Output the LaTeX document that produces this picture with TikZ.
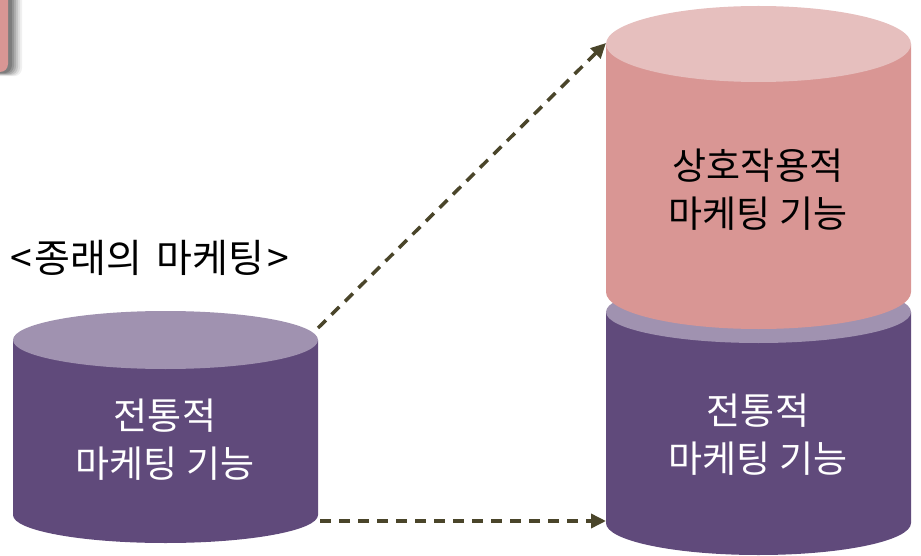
\documentclass[tikz,border=0pt]{standalone}
\usepackage{fontspec}
\setmainfont{Noto Sans CJK KR}
\usetikzlibrary{arrows.meta}
\definecolor{pbody}{HTML}{604A7B}
\definecolor{ptop}{HTML}{A092B0}
\definecolor{rbody}{HTML}{D99694}
\definecolor{rtop}{HTML}{E6BFBE}
\definecolor{arr}{HTML}{4A452A}
\tikzset{
  lbl/.style={font=\fontsize{37}{48}\selectfont, align=center, inner sep=0pt},
  conn/.style={draw=arr, line width=3.5pt, dash pattern=on 11pt off 8pt, -{Triangle[length=15pt,width=14pt]}, shorten >=0pt}
}
\newcommand{\mycyl}[7]{% x1 x2 ytop rytop ybot rybot color
  \fill[#7] (#1,#3) -- (#1,#5) arc[start angle=180,end angle=0,x radius={(#2-#1)/2},y radius=#6] -- (#2,#3) -- cycle;
}
\begin{document}
\begin{tikzpicture}[x=1pt,y=-1pt]
\useasboundingbox (0,0) rectangle (921,556);
% top-left partial box with soft shadow
\foreach \d/\o in {14/0.06,12/0.08,10/0.1,8/0.12,6/0.14,4/0.16}{
  \fill[black, opacity=\o, rounded corners=8pt] (-40,-20) rectangle (8+\d,72+\d*0.3);
}
\fill[rbody, rounded corners=8pt] (-30,-20) rectangle (8,72);
% left cylinder
\mycyl{13}{318}{340}{29}{515}{28}{pbody}
\fill[ptop] (165.5,340) ellipse[x radius=152.5, y radius=29];
% right bottom cylinder
\mycyl{606}{911}{312}{31}{523}{32}{pbody}
\fill[ptop] (758.5,312) ellipse[x radius=152.5, y radius=31];
% right pink cylinder
\mycyl{606}{911}{44}{38}{292}{37}{rbody}
\fill[rtop] (758.5,44) ellipse[x radius=152.5, y radius=38];
% coordinates for connectors
\coordinate (lA) at (318,328);
\coordinate (rA) at (606,43);
\coordinate (lB) at (320,521);
\coordinate (rB) at (606,521);
% texts
\node[lbl, text=white] (t1) at (165,440) {전통적\\마케팅 기능};
\node[lbl, text=white] (t2) at (758,435) {전통적\\마케팅 기능};
\node[lbl, text=black] (t3) at (758,190) {상호작용적\\마케팅 기능};
\node[lbl, text=black, anchor=west, font=\fontsize{39}{48}\selectfont] (t4) at (10,258) {<\hspace{3pt}종래의\hspace{14pt}마케팅\hspace{3pt}>};
% connectors
\draw[conn] (lA) -- (rA);
\draw[conn] (lB) -- (rB);
\end{tikzpicture}
\end{document}
